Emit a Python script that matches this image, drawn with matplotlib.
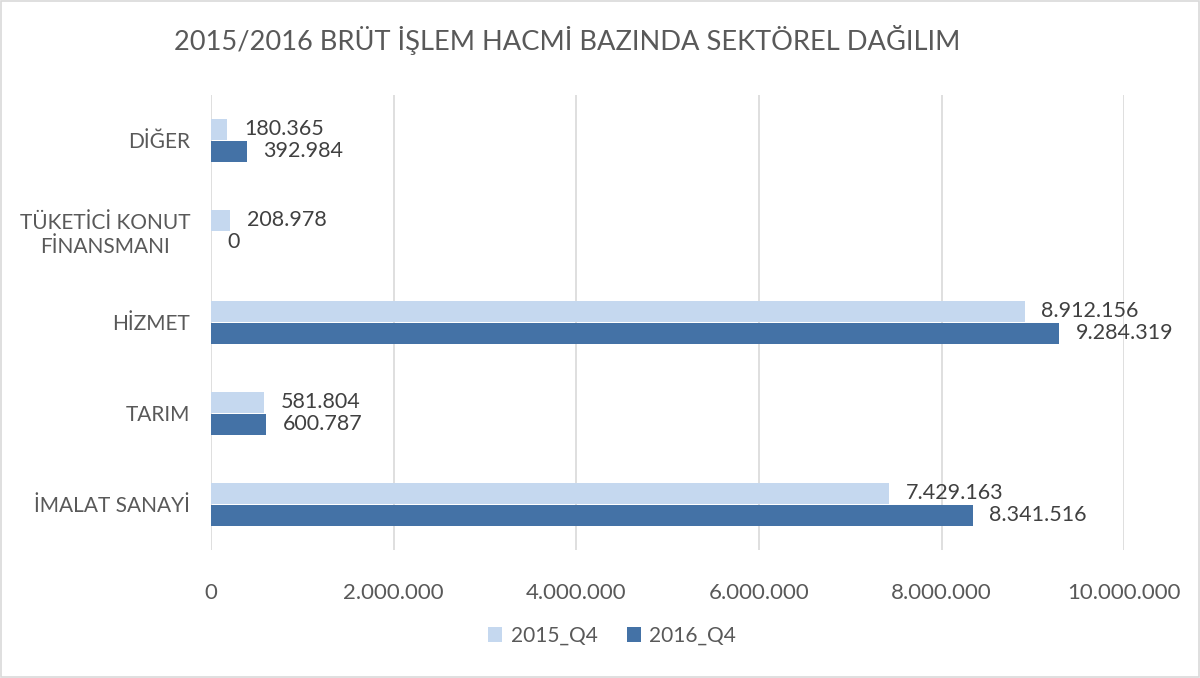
import matplotlib.pyplot as plt
import numpy as np
from matplotlib.patches import Rectangle
from matplotlib.ticker import FuncFormatter

# data (bottom to top, as drawn)
categories = ['İMALAT SANAYİ', 'TARIM', 'HİZMET', 'TÜKETİCİ KONUT\nFİNANSMANI', 'DİĞER']
q4_2015 = [7429163, 581804, 8912156, 208978, 180365]
q4_2016 = [8341516, 600787, 9284319, 0, 392984]
series_names = ['2015_Q4', '2016_Q4']
x_ticks = [0, 2000000, 4000000, 6000000, 8000000, 10000000]

light = '#C5D8EF'
dark = '#4472A6'
txt = '#595959'

plt.rcParams['font.family'] = ['Lato', 'DejaVu Sans']


def fmt(v):
    return f'{int(v):,}'.replace(',', '.')


fig = plt.figure(figsize=(12, 6.78), dpi=100)
ax = fig.add_axes([0.1758, 0.189, 0.761, 0.671])

y = np.arange(len(categories))
h = 0.225
b1 = ax.barh(y + 0.12, q4_2015, height=h, color=light, label=series_names[0], zorder=3)
b2 = ax.barh(y - 0.12, q4_2016, height=h, color=dark, label=series_names[1], zorder=3)

for bars, vals in [(b1, q4_2015), (b2, q4_2016)]:
    for bar, v in zip(bars, vals):
        ax.annotate(fmt(v), (bar.get_width(), bar.get_y() + bar.get_height() / 2),
                    xytext=(12, 0), textcoords='offset points', va='center', ha='left',
                    fontsize=15.5, color='#404040')

ax.set_xlim(0, 10000000)
ax.set_ylim(-0.5, len(categories) - 0.5)
ax.set_xticks(x_ticks)
ax.xaxis.set_major_formatter(FuncFormatter(lambda v, p: fmt(v)))
ax.set_yticks(y)
ax.set_yticklabels(categories, multialignment='center')
ax.tick_params(axis='both', length=0, colors=txt)
ax.tick_params(axis='y', pad=15, labelsize=15)
ax.tick_params(axis='x', pad=24, labelsize=16)
ax.grid(axis='x', color='#D9D9D9', linewidth=1.2, zorder=0)
for s in ax.spines.values():
    s.set_visible(False)

fig.text(0.4725, 0.941, '2015/2016 BRÜT İŞLEM HACMİ BAZINDA SEKTÖREL DAĞILIM',
         ha='center', va='center', fontsize=19.6, color=txt)

fig.legend(handles=[b1, b2], loc='center', bbox_to_anchor=(0.51, 0.062), ncol=2,
           frameon=False, fontsize=15, labelcolor=txt, handlelength=0.7,
           handleheight=0.7, columnspacing=1.4, handletextpad=0.4)

fig.patches.append(Rectangle((0.001, 0.001), 0.998, 0.997, transform=fig.transFigure,
                             fill=False, edgecolor='#D9D9D9', linewidth=1.2))

fig.savefig('out.png', dpi=100)
